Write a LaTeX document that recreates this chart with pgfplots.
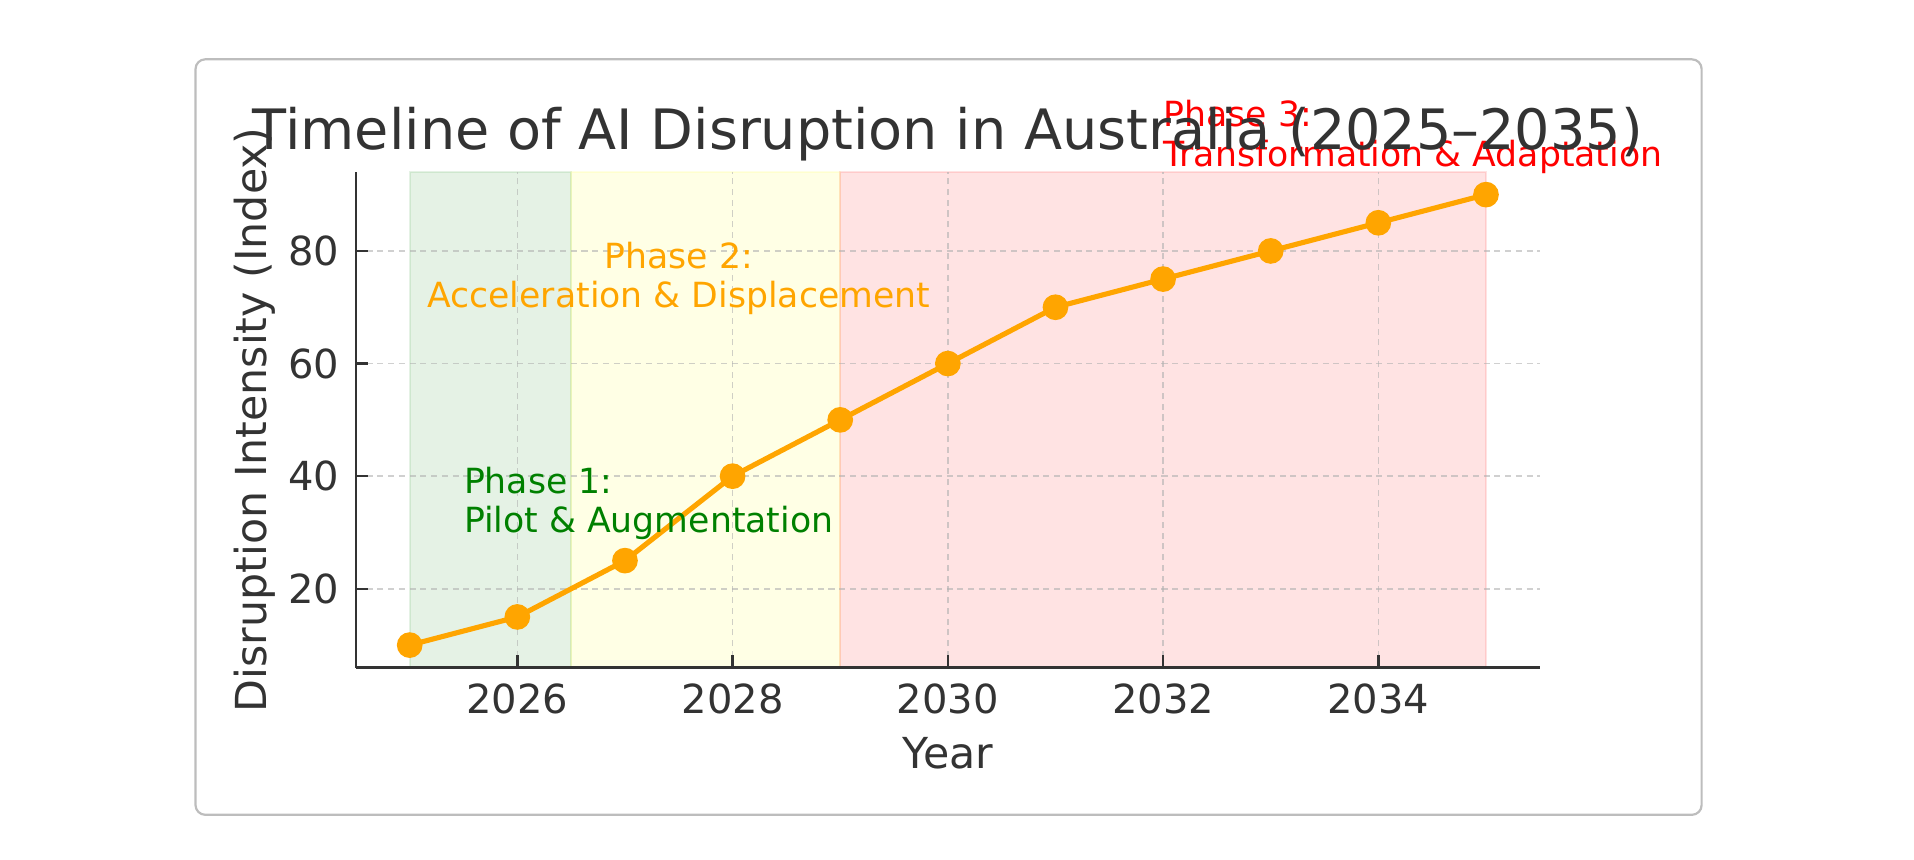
\documentclass[border=0pt]{standalone}
\usepackage{fontspec}
\setmainfont{DejaVu Sans}
\usepackage{pgfplots}
\pgfplotsset{compat=1.18}
\definecolor{mplorange}{HTML}{FFA500}
\definecolor{mplgreen}{HTML}{008000}
\definecolor{mplred}{HTML}{FF0000}
\definecolor{mplyellow}{HTML}{FFFF00}
\definecolor{txt}{HTML}{333333}
\definecolor{framegray}{HTML}{BDBDBD}
\definecolor{gridgray}{HTML}{B0B0B0}
\newcommand{\annfont}{\fontsize{14.2bp}{17bp}\selectfont}
\begin{document}
\begin{tikzpicture}
\path (-145.8bp,-78.8bp) rectangle (638.3bp,273.5bp);
\draw[framegray, line width=0.9bp, rounded corners=4bp] (-65.7bp,-60.3bp) rectangle (551.3bp,249.2bp);
\begin{axis}[
  set layers,
  at={(0,0)}, anchor=south west,
  scale only axis, width=485bp, height=203bp,
  xmin=2024.5, xmax=2035.5, ymin=6, ymax=94,
  axis lines*=left,
  axis line style={txt, line width=1.1bp},
  xtick={2026,2028,2030,2032,2034},
  ytick={20,40,60,80},
  tick align=inside,
  major tick length=5bp,
  tick style={txt, line width=1bp},
  /pgf/number format/assume math mode=true,
  xticklabel style={/pgf/number format/1000 sep={}, anchor=base, yshift=-18.7bp},
  yticklabel style={anchor=east, inner sep=0pt, xshift=-6.6bp},
  ticklabel style={font=\fontsize{16.4bp}{19bp}\selectfont, text=txt},
  grid=major,
  grid style={gridgray, opacity=0.6, line width=0.6bp, dash pattern=on 2.5bp off 1.9bp},
  xlabel={Year},
  ylabel={Disruption Intensity (Index)},
  xlabel style={at={(axis description cs:0.5,-0.2030)}, anchor=base, inner sep=0pt, font=\fontsize{17.5bp}{20bp}\selectfont, text=txt},
  ylabel style={at={(axis description cs:-0.0755,0.5)}, anchor=base, inner sep=0pt, font=\fontsize{17.5bp}{20bp}\selectfont, text=txt},
  title={Timeline of AI Disruption in Australia (2025–2035)},
  every axis title shift=0pt,
  title style={at={(axis description cs:0.5,1.0448)}, anchor=base, inner sep=0pt, font=\fontsize{22.8bp}{27bp}\selectfont, text=txt},
  clip=false,
]
% phase spans
\addplot[on layer=axis background, draw=mplgreen, fill=mplgreen, fill opacity=0.1, draw opacity=0.1, line width=0.8bp]
  coordinates {(2025,6) (2025,94) (2026.5,94) (2026.5,6)} -- cycle;
\addplot[on layer=axis background, draw=mplyellow, fill=mplyellow, fill opacity=0.1, draw opacity=0.1, line width=0.8bp]
  coordinates {(2026.5,6) (2026.5,94) (2029,94) (2029,6)} -- cycle;
\addplot[on layer=axis background, draw=mplred, fill=mplred, fill opacity=0.11, draw opacity=0.11, line width=0.8bp]
  coordinates {(2029,6) (2029,94) (2035,94) (2035,6)} -- cycle;
% data
\addplot[mplorange, line width=2.1bp, mark=*, mark size=4.2bp, mark options={solid, fill=mplorange, draw=mplorange}]
  coordinates {(2025,10) (2026,15) (2027,25) (2028,40) (2029,50) (2030,60) (2031,70) (2032,75) (2033,80) (2034,85) (2035,90)};
% annotations
\node[anchor=base west, inner sep=0pt, text=mplgreen, font=\annfont] at (axis cs:2025.5,30) {Pilot \& Augmentation};
\node[anchor=base west, inner sep=0pt, text=mplgreen, font=\annfont, yshift=16bp] at (axis cs:2025.5,30) {Phase 1:};
\node[anchor=base, inner sep=0pt, text=mplorange, font=\annfont] at (axis cs:2027.5,70) {Acceleration \& Displacement};
\node[anchor=base, inner sep=0pt, text=mplorange, font=\annfont, yshift=16bp] at (axis cs:2027.5,70) {Phase 2:};
\node[anchor=base west, inner sep=0pt, text=mplred, font=\annfont] at (axis cs:2032,95) {Transformation \& Adaptation};
\node[anchor=base west, inner sep=0pt, text=mplred, font=\annfont, yshift=16.3bp] at (axis cs:2032,95) {Phase 3:};
\end{axis}
\end{tikzpicture}
\end{document}
